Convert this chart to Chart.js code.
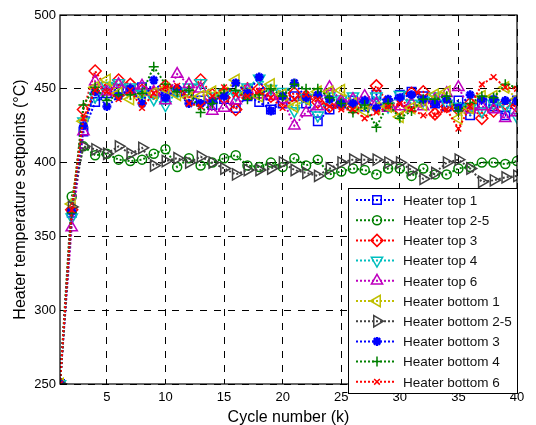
<!DOCTYPE html>
<html>
<head>
<meta charset="utf-8">
<script src="https://cdn.jsdelivr.net/npm/chart.js@4"></script>
<style>
  html, body { margin: 0; padding: 0; background: #fff; }
  #wrap { width: 536px; height: 425px; }
</style>
</head>
<body>
<div id="wrap"><canvas id="chart" width="536" height="425"></canvas></div>
<script>
const cycles = [1, 2, 3, 4, 5, 6, 7, 8, 9, 10, 11, 12, 13, 14, 15, 16, 17, 18, 19, 20,
                21, 22, 23, 24, 25, 26, 27, 28, 29, 30, 31, 32, 33, 34, 35, 36, 37, 38, 39, 40];

const xTicks = [5, 10, 15, 20, 25, 30, 35, 40];

const seriesNames = ['Heater top 1', 'Heater top 2-5', 'Heater top 3', 'Heater top 4', 'Heater top 6',
                     'Heater bottom 1', 'Heater bottom 2-5', 'Heater bottom 3', 'Heater bottom 4', 'Heater bottom 6'];

const top1 = [250, 366, 421, 441, 447, 450, 449, 451, 447, 445, 448, 445, 442, 439, 443, 437, 445, 441, 436, 440,
              445, 440, 428, 436, 440, 442, 438, 446, 440, 446, 448, 445, 440, 438, 442, 432, 440, 438, 432, 442];
const top25 = [250, 377, 411, 405, 406, 402, 401, 402, 406, 409, 397, 403, 398, 400, 403, 405, 398, 397, 400, 397,
               403, 398, 402, 392, 394, 396, 395, 392, 396, 396, 391, 396, 392, 392, 396, 397, 400, 400, 399, 401];
const top3 = [250, 368, 436, 462, 450, 456, 453, 449, 447, 452, 449, 448, 456, 446, 444, 436, 450, 450, 445, 443,
              447, 445, 441, 438, 440, 437, 440, 452, 440, 436, 447, 448, 433, 438, 436, 440, 430, 435, 440, 438];
const top4 = [250, 363, 428, 445, 452, 454, 451, 447, 443, 439, 448, 451, 454, 445, 447, 446, 451, 457, 450, 448,
              435, 444, 432, 445, 443, 445, 440, 445, 438, 446, 440, 442, 445, 440, 438, 437, 435, 440, 438, 431];
const top6 = [250, 356, 421, 455, 448, 453, 449, 452, 448, 442, 460, 453, 450, 435, 437, 442, 449, 446, 445, 443,
              425, 434, 438, 451, 442, 443, 445, 440, 437, 438, 440, 438, 443, 447, 451, 436, 438, 436, 430, 434];
const bottom1 = [250, 372, 428, 451, 456, 447, 443, 445, 447, 450, 446, 444, 445, 448, 447, 456, 447, 445, 453, 446,
                 438, 443, 448, 448, 449, 440, 435, 437, 438, 431, 437, 439, 446, 448, 430, 437, 445, 445, 451, 443];
const bottom25 = [250, 370, 411, 409, 406, 411, 406, 410, 398, 401, 403, 400, 404, 400, 396, 392, 395, 395, 396, 400,
                  395, 393, 391, 396, 400, 402, 402, 402, 400, 400, 395, 389, 393, 400, 402, 396, 387, 388, 390, 391];
const bottom3 = [250, 367, 425, 448, 438, 445, 450, 440, 456, 444, 450, 440, 440, 442, 445, 454, 447, 458, 435, 445,
                 454, 444, 446, 443, 440, 440, 442, 437, 443, 444, 446, 443, 440, 443, 437, 446, 443, 443, 442, 442];
const bottom4 = [250, 366, 439, 451, 442, 446, 446, 447, 465, 453, 448, 449, 434, 440, 450, 449, 443, 446, 450, 445,
                 453, 450, 450, 444, 440, 434, 439, 424, 440, 430, 435, 443, 443, 445, 435, 440, 445, 444, 453, 451];
const bottom6 = [250, 368, 430, 449, 448, 443, 449, 437, 447, 451, 452, 440, 438, 445, 451, 446, 445, 448, 444, 437,
                 443, 446, 443, 438, 436, 436, 430, 434, 438, 440, 436, 432, 432, 436, 423, 438, 453, 458, 451, 450];

const seriesValues = [top1, top25, top3, top4, top6, bottom1, bottom25, bottom3, bottom4, bottom6];

// MATLAB-ish colours and markers
const colors = ['#0000ff', '#008000', '#ff0000', '#00bfbf', '#bf00bf',
                '#bfbf00', '#404040', '#0000ff', '#008000', '#ff0000'];
const markers = ['rect', 'circle', 'rectRot', 'triangle', 'triangle',
                 'triangle', 'triangle', 'star', 'cross', 'crossRot'];
const markerRotation = [0, 0, 0, 180, 0, -90, 90, 0, 0, 0];
const markerRadius = [6, 4.5, 6, 6.5, 6.5, 6.5, 6.5, 4.5, 5, 4];

const FONT = '"Liberation Sans", Arial, Helvetica, sans-serif';

const datasets = seriesNames.map((name, i) => ({
    label: name,
    data: seriesValues[i].map((v, j) => ({ x: cycles[j], y: v })),
    borderColor: colors[i],
    backgroundColor: colors[i],
    borderWidth: 2,
    borderDash: [2, 2],
    pointStyle: markers[i],
    pointRotation: markerRotation[i],
    pointRadius: markerRadius[i],
    pointBorderWidth: markers[i] === 'star' ? 2.5 : 1.5,
    pointBackgroundColor: markers[i] === 'star' ? colors[i] : 'rgba(0,0,0,0)',
    pointBorderColor: colors[i],
    order: seriesNames.length - i,
    tension: 0
}));

// box around plot + legend drawn inside the axes like MATLAB
const matlabLook = {
    id: 'matlabLook',
    afterDraw(chart) {
        const ctx = chart.ctx;
        const area = chart.chartArea;
        ctx.save();
        ctx.strokeStyle = '#000';
        ctx.lineWidth = 1.2;
        ctx.setLineDash([]);
        ctx.strokeRect(area.left, area.top, area.right - area.left, area.bottom - area.top);

        const w = 169, rowH = 20.2;
        const h = rowH * datasets.length + 3;
        const x0 = area.right - w;
        const y0 = area.bottom + 9 - h;
        ctx.fillStyle = '#fff';
        ctx.fillRect(x0, y0, w, h);
        ctx.lineWidth = 1;
        ctx.strokeRect(x0 + 0.5, y0 + 0.5, w, h);

        ctx.font = '13.5px ' + FONT;
        ctx.textBaseline = 'middle';
        datasets.forEach((ds, i) => {
            const cy = y0 + 12 + i * rowH;
            ctx.strokeStyle = ds.borderColor;
            ctx.lineWidth = 2;
            ctx.setLineDash([2, 2]);
            ctx.beginPath();
            ctx.moveTo(x0 + 8, cy);
            ctx.lineTo(x0 + 48, cy);
            ctx.stroke();
            ctx.setLineDash([]);
            ctx.fillStyle = ds.pointBackgroundColor;
            ctx.lineWidth = ds.pointBorderWidth;
            Chart.helpers.drawPoint(ctx, {
                pointStyle: ds.pointStyle,
                rotation: ds.pointRotation,
                radius: ds.pointRadius,
                borderWidth: ds.pointBorderWidth
            }, x0 + 29, cy);
            ctx.fillStyle = '#111';
            ctx.fillText(ds.label, x0 + 55, cy + 1);
        });
        ctx.restore();
    }
};

new Chart(document.getElementById('chart'), {
    type: 'line',
    data: { datasets: datasets },
    plugins: [matlabLook],
    options: {
        responsive: false,
        animation: false,
        layout: { padding: { top: 15, right: 19, left: 0, bottom: 0 } },
        plugins: {
            legend: { display: false },
            tooltip: { enabled: false }
        },
        scales: {
            x: {
                type: 'linear',
                min: 1,
                max: 40,
                afterBuildTicks: scale => { scale.ticks = xTicks.map(v => ({ value: v })); },
                afterFit: scale => { scale.height = 41; },
                grid: { color: '#000', lineWidth: 1, drawTicks: false },
                border: { display: false, dash: [7, 7] },
                ticks: { color: '#000', font: { family: FONT, size: 13 }, padding: 6, maxRotation: 0 },
                title: {
                    display: true,
                    text: 'Cycle number (k)',
                    color: '#000',
                    font: { family: FONT, size: 16 },
                    padding: { top: 0, bottom: -2 }
                }
            },
            y: {
                min: 250,
                max: 500,
                afterFit: scale => { scale.width = 60; },
                grid: { color: '#000', lineWidth: 1, drawTicks: false },
                border: { display: false, dash: [7, 7] },
                ticks: { stepSize: 50, color: '#000', font: { family: FONT, size: 13 }, padding: 4 },
                title: {
                    display: true,
                    text: 'Heater temperature setpoints (°C)',
                    color: '#000',
                    font: { family: FONT, size: 16 },
                    padding: { top: 11, bottom: 0 }
                }
            }
        }
    }
});
</script>
</body>
</html>
